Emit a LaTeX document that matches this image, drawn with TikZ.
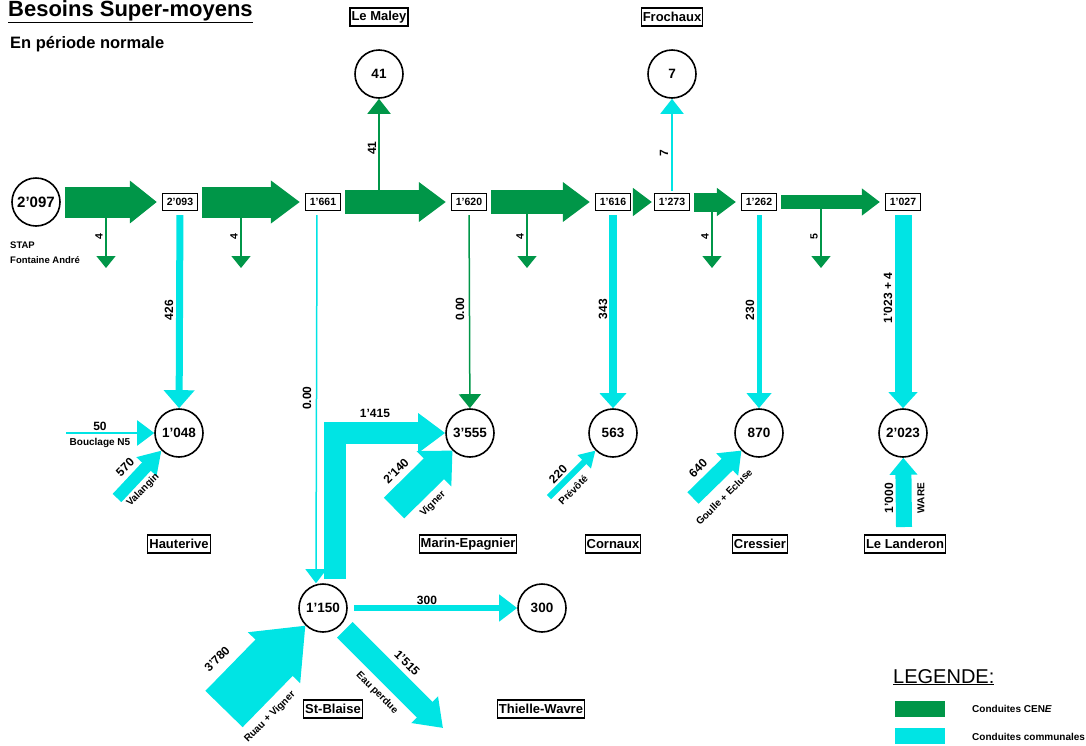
\documentclass[tikz,border=0pt]{standalone}
\usepackage{fontspec}
\setmainfont{Liberation Sans}
\usetikzlibrary{arrows.meta}
\definecolor{cene}{RGB}{0,150,72}
\definecolor{comm}{RGB}{0,228,228}
\newcommand\fsz[1]{\fontsize{#1}{#1}\selectfont\bfseries}

\begin{document}
\begin{tikzpicture}[x=1pt, y=-1pt,
  circ/.style={draw, circle, line width=1.6pt, minimum size=48pt, inner sep=0pt, font=\fsz{13.5}},
  val/.style={draw, line width=1.2pt, inner sep=1pt, minimum width=35pt, minimum height=17pt, font=\fsz{10.5}},
  place/.style={draw, line width=1.2pt, inner sep=1.5pt, minimum height=18pt, font=\fsz{13}},
  lbl/.style={inner sep=0pt, font=\fsz{12}},
  txt/.style={inner sep=0pt, font=\fsz{10}},
  fat/.style n args={3}{line width=#1, -{Triangle[width=#2,length=#3]}},
  trunk/.style={cene, shorten <=4pt, shorten >=5pt}]
\useasboundingbox (0,0) rectangle (1086,745);

% titles
\node[anchor=base west, inner sep=0pt, font=\fsz{22}] (title) at (8,16) {\underline{Besoins Super-moyens}};
\node[anchor=base west, inner sep=0pt, font=\fsz{16.5}] (sub) at (10,48) {En période normale};

% main line
\node[circ, font=\fsz{15}] (c2097) at (36,202) {2'097};
\node[val] (b2093) at (180,202) {2'093};
\node[val] (b1661) at (323,202) {1'661};
\node[val] (b1620) at (469,202) {1'620};
\node[val] (b1616) at (613,202) {1'616};
\node[val] (b1273) at (672,202) {1'273};
\node[val] (b1262) at (759,202) {1'262};
\node[val] (b1027) at (903,202) {1'027};
\node[txt, anchor=north west, align=left, font=\fontsize{9.5}{15}\selectfont\bfseries] (tStap) at (10,242) {STAP\\Fontaine André};

% reservoirs up
\node[circ] (c41) at (379,74) {41};
\node[circ] (c7) at (672,74) {7};
\node[place] (pMaley) at (379,17) {Le Maley};
\node[place] (pFro) at (672,17) {Frochaux};

% reservoirs down
\node[circ] (c1048) at (179,433) {1'048};
\node[circ] (c3555) at (470,433) {3'555};
\node[circ] (c563) at (613,433) {563};
\node[circ] (c870) at (759,433) {870};
\node[circ] (c2023) at (903,433) {2'023};
\node[circ] (c1150) at (323,608) {1'150};
\node[circ] (c300) at (542,608) {300};
\node[place] (pHau) at (179,544) {Hauterive};
\node[place] (pMarin) at (468,544) {Marin-Epagnier};
\node[place] (pCor) at (613,544) {Cornaux};
\node[place] (pCre) at (760,544) {Cressier};
\node[place] (pLan) at (905,544) {Le Landeron};
\node[place] (pBla) at (333,709) {St-Blaise};
\node[place] (pThi) at (541,709) {Thielle-Wavre};

% small draws along the trunk
\foreach \x/\v in {106/4, 241/4, 527/4, 712/4, 821/5} {
  \coordinate (s\x) at (\x,205); \coordinate (e\x) at (\x,268);
  \draw[cene, fat={1.5pt}{19pt}{12pt}] (s\x) -- (e\x);
  \node[lbl, font=\fsz{10.5}, rotate=90] (n\x) at (\x-7,237) {\v};
}
\coordinate (j41) at (379,195);
\draw[cene, fat={2pt}{23pt}{15pt}] (j41) -- (c41);
\node[lbl, rotate=90] (n41) at (372,148) {41};
\draw[comm, fat={2pt}{23pt}{15pt}, shorten <=2pt] (b1273) -- (c7);
\node[lbl, rotate=90] (n7) at (664,153) {7};

% trunk (CENE)
\draw[trunk, fat={31pt}{41pt}{27pt}] (c2097) -- (b2093);
\draw[trunk, fat={31pt}{41pt}{29pt}] (b2093) -- (b1661);
\draw[trunk, fat={24pt}{38pt}{27pt}] (b1661) -- (b1620);
\draw[trunk, fat={24pt}{38pt}{27pt}] (b1620) -- (b1616);
\draw[cene, shorten <=2pt, shorten >=2pt, fat={19pt}{27pt}{19pt}] (b1616) -- (b1273);
\draw[trunk, fat={19pt}{27pt}{19pt}] (b1273) -- (b1262);
\draw[trunk, fat={14pt}{26pt}{18pt}] (b1262) -- (b1027);

% branches down
\draw[comm, fat={7pt}{30pt}{18pt}, shorten <=4pt] (b2093) -- (c1048);
\node[lbl, rotate=90] (n426) at (169,310) {426};
\draw[comm, fat={1.5pt}{21pt}{14pt}, shorten <=4pt] ([xshift=-6pt]b1661.south) -- ([xshift=-7pt]c1150.north);
\node[lbl, rotate=90] (n000a) at (307,398) {0.00};
\draw[comm, fat={22pt}{38pt}{27pt}, shorten <=4pt] ([xshift=12pt]c1150.north) |- (c3555.west);
\node[lbl] (n1415) at (375,413) {1'415};
\draw[cene, fat={1.5pt}{22pt}{14pt}, shorten <=4pt] (b1620) -- (c3555);
\node[lbl, rotate=90] (n000b) at (460,309) {0.00};
\draw[comm, fat={8pt}{26pt}{15pt}, shorten <=4pt] (b1616) -- (c563);
\node[lbl, rotate=90] (n343) at (603,309) {343};
\draw[comm, fat={5pt}{24pt}{15pt}, shorten <=4pt] (b1262) -- (c870);
\node[lbl, rotate=90] (n230) at (750,310) {230};
\draw[comm, fat={17pt}{28pt}{16pt}, shorten <=4pt] (b1027) -- (c2023);
\node[lbl, rotate=90] (n1023) at (888,298) {1'023 + 4};

% local inflows
\coordinate (iN5) at (66,433);
\draw[comm, fat={2pt}{25pt}{17pt}] (iN5) -- (c1048.west);
\node[lbl] (n50) at (100,426) {50};
\node[txt] (tN5) at (100,443) {Bouclage N5};
\coordinate (iVal) at (117,498);
\draw[comm, fat={12pt}{26pt}{22pt}] (iVal) -- (c1048.225);
\node[lbl, rotate=45] (n570) at (125,467) {570};
\node[txt, rotate=45] (tVal) at (143,490) {Valangin};
\coordinate (iVig) at (394,508);
\draw[comm, fat={29pt}{48pt}{26pt}] (iVig) -- (c3555.225);
\node[lbl, rotate=45] (n2140) at (396,471) {2'140};
\node[txt, rotate=45] (tVig) at (433,504) {Vigner};
\coordinate (iPre) at (549,497);
\draw[comm, fat={6pt}{18pt}{16pt}] (iPre) -- (c563.225);
\node[lbl, rotate=45] (n220) at (558,474) {220};
\node[txt, rotate=45] (tPre) at (573,490) {Prévôté};
\coordinate (iGou) at (693,498);
\draw[comm, fat={16pt}{30pt}{20pt}] (iGou) -- (c870.225);
\node[lbl, rotate=45] (n640) at (698,468) {640};
\node[txt, rotate=45] (tGou) at (724,497) {Goulle + Ecluse};
\coordinate (iWare) at (904,527);
\draw[comm, fat={16pt}{27pt}{17pt}] (iWare) -- (c2023);
\node[lbl, rotate=90] (n1000) at (889,498) {1'000};
\node[txt, rotate=90] (tWare) at (921,498) {WARE};

% St-Blaise
\coordinate (iRuau) at (224,709);
\draw[comm, fat={52pt}{70pt}{45pt}] (iRuau) -- (c1150.225);
\node[lbl, rotate=45] (n3780) at (217,659) {3'780};
\node[txt, rotate=45] (tRuau) at (270,717) {Ruau + Vigner};
\coordinate (oEau) at (443,728);
\draw[comm, fat={22pt}{36pt}{26pt}, shorten <=6pt] (c1150.315) -- (oEau);
\node[lbl, rotate=-45] (n1515) at (407,663) {1'515};
\node[txt, rotate=-45] (tEau) at (377,693) {Eau perdue};
\draw[comm, fat={6pt}{26pt}{18pt}, shorten <=6pt] (c1150) -- (c300);
\node[lbl] (n300) at (427,600) {300};

% legend
\node[anchor=base west, inner sep=0pt, font=\fontsize{20}{20}\selectfont] (lgd) at (893,683) {\underline{LEGENDE:}};
\node[fill=cene, minimum width=50pt, minimum height=16pt, inner sep=0pt] (kCene) at (920,709) {};
\node[fill=comm, minimum width=50pt, minimum height=16pt, inner sep=0pt] (kComm) at (920,736) {};
\node[txt, anchor=west] (tCene) at (972,709) {Conduites CEN\textit{E}};
\node[txt, anchor=west] (tComm) at (972,737) {Conduites communales};
\end{tikzpicture}
\end{document}
